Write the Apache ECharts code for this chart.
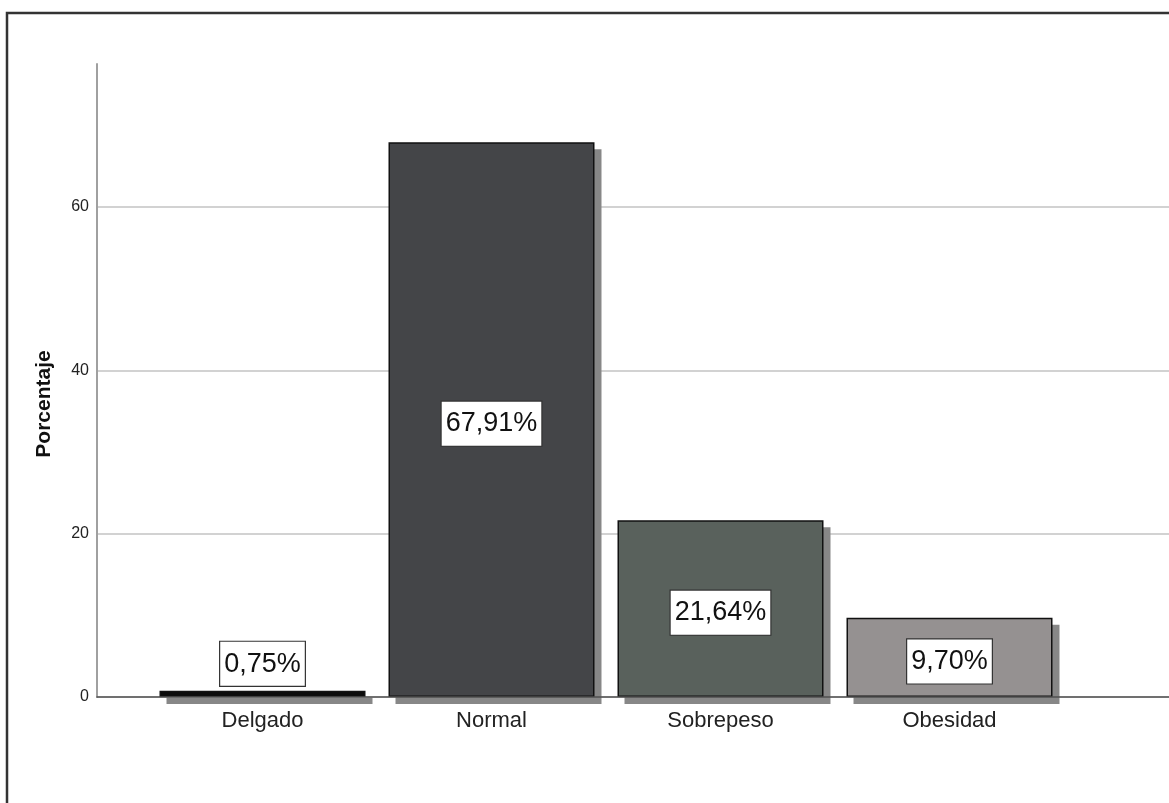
<!DOCTYPE html>
<html>
<head>
<meta charset="utf-8">
<script src="https://cdn.jsdelivr.net/npm/echarts@6/dist/echarts.min.js"></script>
<style>
  html, body { margin: 0; padding: 0; background: #fff; }
  #chart { width: 1169px; height: 803px; }
</style>
</head>
<body>
<div id="chart"></div>
<script>
// Categories and percentages
const categories = ['Delgado', 'Normal', 'Sobrepeso', 'Obesidad'];
const percentages = [0.75, 67.91, 21.64, 9.70];
const barColors = ['#0b0b0b', '#444548', '#59615c', '#959191'];
const yTicks = [0, 20, 40, 60];
const yAxisTitle = 'Porcentaje';

const FONT = '"Liberation Sans", Arial, sans-serif';
const Y_MAX = 77.5;
const TOP = 64, BOTTOM = 106;
const BAR_LEFT = 148, BAR_SPAN = 916;
const SHADOW = 7; // drop-shadow offset of the bars, px

const fmt = v => v.toFixed(2).replace('.', ',') + '%';

const chart = echarts.init(document.getElementById('chart'), null, { renderer: 'canvas' });

chart.setOption({
  backgroundColor: '#ffffff',
  animation: false,
  grid: [
    // axis frame: full-length y axis line and x baseline
    { left: 97, right: 0, top: TOP, bottom: BOTTOM },
    // tick labels and grid lines up to the last tick
    { left: 97, right: 0, top: TOP + (Y_MAX - yTicks[yTicks.length - 1]) / Y_MAX * (803 - TOP - BOTTOM), bottom: BOTTOM },
    // bars
    { left: BAR_LEFT, width: BAR_SPAN, top: TOP, bottom: BOTTOM },
    // bar shadows, shifted right and down
    { left: BAR_LEFT + SHADOW, width: BAR_SPAN, top: TOP + SHADOW, bottom: BOTTOM - SHADOW }
  ],
  xAxis: [
    { gridIndex: 0, type: 'value', min: 0, max: 1, z: 4,
      axisLine: { show: true, lineStyle: { color: '#505050', width: 1.5 } },
      axisTick: { show: false }, axisLabel: { show: false }, splitLine: { show: false } },
    { gridIndex: 1, type: 'value', min: 0, max: 1, show: false },
    { gridIndex: 2, type: 'category', data: categories,
      axisLine: { show: false }, axisTick: { show: false }, splitLine: { show: false },
      axisLabel: { color: '#222', fontFamily: FONT, fontSize: 22, margin: 13 } },
    { gridIndex: 3, type: 'category', data: categories, show: false }
  ],
  yAxis: [
    { gridIndex: 0, type: 'value', min: 0, max: Y_MAX,
      axisLine: { show: true, lineStyle: { color: '#a0a0a0', width: 2 } },
      axisTick: { show: false }, axisLabel: { show: false }, splitLine: { show: false } },
    { gridIndex: 1, type: 'value', min: yTicks[0], max: yTicks[yTicks.length - 1], interval: 20,
      axisLine: { show: false }, axisTick: { show: false },
      axisLabel: { color: '#222', fontFamily: FONT, fontSize: 16, margin: 8 },
      splitLine: { show: true, lineStyle: { color: '#d2d2d2', width: 2 } } },
    { gridIndex: 2, type: 'value', min: 0, max: Y_MAX, show: false },
    { gridIndex: 3, type: 'value', min: 0, max: Y_MAX, show: false }
  ],
  series: [
    {
      // gray drop shadows behind the bars
      type: 'bar',
      xAxisIndex: 3,
      yAxisIndex: 3,
      barWidth: 206,
      z: 2,
      silent: true,
      data: percentages,
      itemStyle: { color: '#878787' }
    },
    {
      type: 'bar',
      xAxisIndex: 2,
      yAxisIndex: 2,
      barWidth: 206,
      z: 3,
      data: percentages.map((v, i) => ({
        value: v,
        itemStyle: { color: barColors[i] },
        label: i === 0
          ? { position: 'top', distance: 5 }
          : { position: 'inside', offset: [0, 4] }
      })),
      itemStyle: {
        borderColor: '#111',
        borderWidth: 1.5
      },
      label: {
        show: true,
        formatter: p => fmt(p.value),
        fontFamily: FONT,
        fontSize: 27,
        color: '#111',
        backgroundColor: '#ffffff',
        borderColor: '#333',
        borderWidth: 1.2,
        lineHeight: 36,
        padding: [5, 4, 3, 4]
      }
    }
  ],
  graphic: [
    {
      type: 'rect',
      shape: { x: 7, y: 13, width: 1300, height: 1000 },
      style: { fill: null, stroke: '#333', lineWidth: 2.5 },
      silent: true
    },
    {
      type: 'text',
      x: 44, y: 404,
      rotation: Math.PI / 2,
      style: {
        text: yAxisTitle,
        font: 'bold 21px ' + FONT,
        fill: '#111',
        textAlign: 'center',
        textVerticalAlign: 'middle'
      }
    }
  ]
});
</script>
</body>
</html>
